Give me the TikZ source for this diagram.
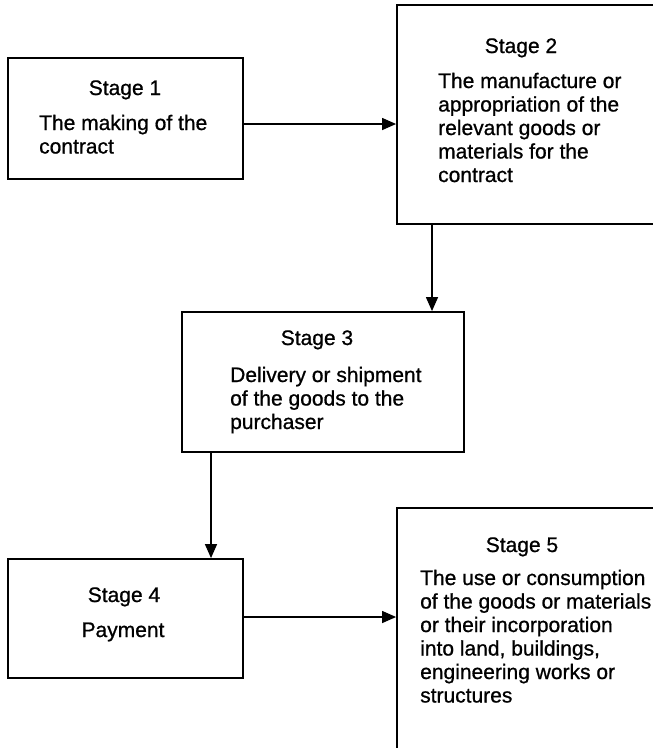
\documentclass[tikz,border=0pt]{standalone}
\usepackage{fontspec}
\setmainfont[FakeBold=0.8]{Liberation Sans}
\usetikzlibrary{arrows.meta}
\tikzset{
  stagebox/.style={draw, line width=1.8pt, inner sep=0pt},
  flow/.style={line width=1.3pt, -{Triangle[length=14pt,width=12pt]}},
  titletext/.style={anchor=base, inner sep=0pt, font=\fontsize{21}{23.5}\selectfont},
  bodytext/.style={anchor=base west, inner sep=0pt, font=\fontsize{21}{23.5}\selectfont},
}
\newcommand{\bodylines}[1]{\parbox[t]{270pt}{\raggedright #1}}
\begin{document}
\begin{tikzpicture}[x=1pt,y=-1pt]
\useasboundingbox (0,0) rectangle (653,748);
\clip (0,0) rectangle (653,748);
\fill[white] (0,0) rectangle (653,748);
% boxes
\node[stagebox, minimum width=235pt, minimum height=121pt] (b1) at (125.5,118.5) {};
\node[stagebox, minimum width=263pt, minimum height=219pt] (b2) at (528.5,114.5) {};
\node[stagebox, minimum width=282pt, minimum height=140pt] (b3) at (323,382) {};
\node[stagebox, minimum width=235pt, minimum height=119pt] (b4) at (125.5,618.5) {};
\node[stagebox, minimum width=263pt, minimum height=252pt] (b5) at (528.5,634) {};
% texts
\node[titletext] (t1) at (125,95) {Stage 1};
\node[bodytext] (d1) at (39,130) {\bodylines{The making of the\\contract}};
\node[titletext] (t2) at (521,53) {Stage 2};
\node[bodytext] (d2) at (438,88) {\bodylines{The manufacture or\\appropriation of the\\relevant goods or\\materials for the\\contract}};
\node[titletext] (t3) at (317,345) {Stage 3};
\node[bodytext] (d3) at (230,382) {\bodylines{Delivery or shipment\\of the goods to the\\purchaser}};
\node[titletext] (t4) at (124,602) {Stage 4};
\node[titletext] (d4) at (123,637) {Payment};
\node[titletext] (t5) at (522,552) {Stage 5};
\node[bodytext] (d5) at (420,585) {\bodylines{The use or consumption\\of the goods or materials,\\or their incorporation\\into land, buildings,\\engineering works or\\structures}};
% connectors
\coordinate (c12) at (0,124);
\coordinate (c23) at (432,0);
\coordinate (c34) at (211,0);
\coordinate (c45) at (0,617);
\draw[flow] (b1.east |- c12) -- (b2.west |- c12);
\draw[flow] (b2.south -| c23) -- (b3.north -| c23);
\draw[flow] (b3.south -| c34) -- (b4.north -| c34);
\draw[flow] (b4.east |- c45) -- (b5.west |- c45);
\end{tikzpicture}
\end{document}
